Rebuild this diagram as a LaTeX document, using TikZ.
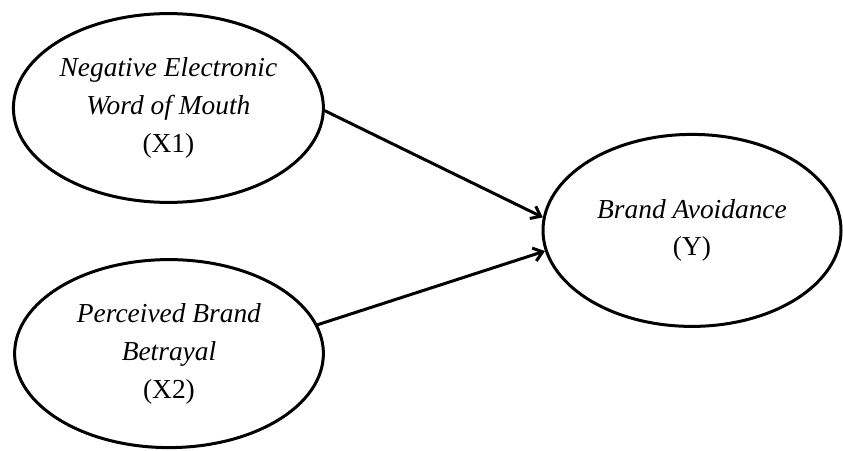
\documentclass[tikz,border=0pt]{standalone}
\usepackage{fontspec}
\setmainfont{Liberation Serif}
\usetikzlibrary{arrows.meta,shapes.geometric}

\begin{document}
\begin{tikzpicture}[
    >={Straight Barb[length=0.22cm,width=0.34cm]},
    line cap=round,
    line join=round,
    construct/.style={
        ellipse,
        draw,
        line width=0.075cm,
        inner sep=0pt,
        align=center,
        font=\fontsize{19.5}{27}\selectfont
    },
    path/.style={->,line width=0.075cm}
]

% Frame of the picture
\useasboundingbox (0,0) rectangle (21.075,11.25);

% Independent variable X1
\node[construct,minimum width=7.75cm,minimum height=4.72cm]
    (x1) at (4.21,8.55)
    {\textit{Negative Electronic}\\ \textit{Word of Mouth}\\ (X1)};

% Independent variable X2
\node[construct,minimum width=7.72cm,minimum height=4.7cm]
    (x2) at (4.225,2.41)
    {\textit{Perceived Brand}\\ \textit{Betrayal}\\ (X2)};

% Dependent variable Y
\node[construct,minimum width=7.45cm,minimum height=4.8cm]
    (y) at (17.3,5.49)
    {\textit{Brand Avoidance}\\ (Y)};

% Hypothesised paths
\draw[path] (x1.-1.5) -- (y.175);
\draw[path] (x2.11) -- (y.188);

\end{tikzpicture}
\end{document}
